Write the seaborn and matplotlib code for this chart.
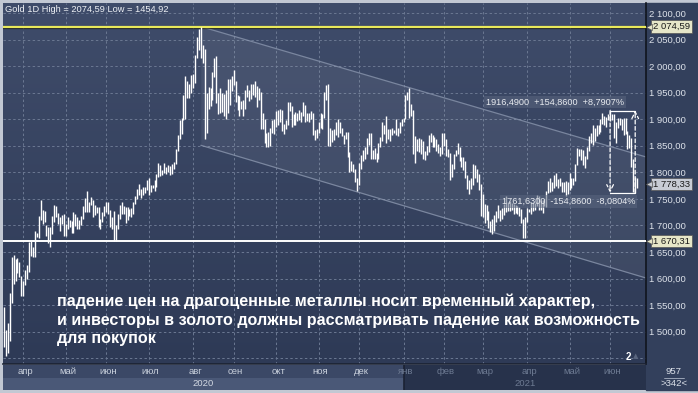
import numpy as np
import pandas as pd
import matplotlib
matplotlib.use("Agg")
import matplotlib.pyplot as plt
import matplotlib.patheffects as pe
from matplotlib.colors import LinearSegmentedColormap
from matplotlib.transforms import blended_transform_factory
import seaborn as sns

# ---- daily bars, Gold 1D, 2020-03-18 .. 2021-06-21 (one row per month) ----
highs = [
    1546, 1503, 1516, 1573, 1640, 1645, 1637, 1638, 1632, 1604,
    1596, 1617, 1626, 1668, 1671, 1660, 1690, 1686, 1717, 1747, 1729, 1727, 1701, 1698, 1697, 1717, 1739, 1736, 1723, 1716, 1720, 1722,
    1702, 1716, 1711, 1708, 1726, 1722, 1715, 1711, 1718, 1737, 1751, 1765, 1745, 1753, 1748, 1738, 1735, 1735, 1712, 1725, 1736,
    1745, 1745, 1730, 1715, 1727, 1700, 1721, 1739, 1744, 1737, 1734, 1735, 1731, 1732, 1745, 1755, 1768, 1779, 1768, 1772, 1773, 1785,
    1789, 1776, 1777, 1786, 1796, 1818, 1814, 1805, 1817, 1811, 1814, 1812, 1815, 1820, 1844, 1871, 1898, 1903, 1945, 1981, 1973, 1966, 1984,
    1985, 2021, 2055, 2070, 2074.59, 2040, 2032, 1949, 1960, 1959, 1989, 2015, 2020, 1950, 1959, 1950, 1947, 1955, 1976, 1976, 1981,
    1992, 1973, 1945, 1943, 1935, 1937, 1955, 1965, 1955, 1967, 1966, 1972, 1962, 1959, 1952, 1912, 1900, 1875, 1876, 1883, 1899, 1900,
    1916, 1918, 1920, 1918, 1891, 1898, 1933, 1933, 1925, 1909, 1914, 1912, 1917, 1914, 1932, 1926, 1911, 1911, 1916, 1911, 1880, 1882,
    1895, 1911, 1910, 1951, 1965, 1966, 1883, 1879, 1882, 1894, 1900, 1894, 1883, 1870, 1876, 1876, 1838, 1822, 1816, 1807, 1790,
    1818, 1833, 1842, 1848, 1864, 1875, 1874, 1843, 1845, 1837, 1856, 1866, 1895, 1890, 1906, 1882, 1881, 1883, 1880, 1900, 1884, 1894, 1900,
    1902, 1945, 1952, 1959, 1929, 1918, 1868, 1862, 1864, 1862, 1859, 1841, 1849, 1871, 1875, 1871, 1867, 1862, 1853, 1848, 1875,
    1875, 1863, 1844, 1837, 1816, 1835, 1843, 1855, 1848, 1829, 1828, 1822, 1795, 1785, 1789, 1816, 1814, 1806, 1797, 1778,
    1760, 1740, 1739, 1727, 1709, 1713, 1720, 1727, 1739, 1729, 1732, 1740, 1755, 1745, 1746, 1743, 1741, 1738, 1737, 1734, 1731, 1712, 1716,
    1733, 1731, 1744, 1745, 1743, 1758, 1756, 1747, 1748, 1750, 1764, 1783, 1790, 1781, 1795, 1798, 1788, 1790, 1782, 1781, 1784, 1782,
    1798, 1789, 1789, 1816, 1845, 1844, 1844, 1843, 1831, 1847, 1869, 1875, 1890, 1883, 1889, 1890, 1900, 1912, 1906, 1905, 1909,
    1916.49, 1909, 1909, 1894, 1903, 1903, 1900, 1902, 1903, 1877, 1870, 1864, 1825, 1791, 1790,
]
lows = [
    1471, 1454.92, 1460, 1483, 1553, 1590, 1596, 1610, 1603, 1567,
    1568, 1587, 1600, 1613, 1643, 1640, 1640, 1678, 1676, 1710, 1703, 1706, 1680, 1667, 1659, 1683, 1707, 1715, 1702, 1690, 1702, 1680,
    1680, 1693, 1697, 1685, 1686, 1699, 1693, 1693, 1700, 1713, 1726, 1726, 1725, 1738, 1716, 1720, 1724, 1697, 1693, 1706, 1717,
    1726, 1722, 1697, 1693, 1670, 1671, 1694, 1713, 1721, 1722, 1704, 1710, 1718, 1715, 1721, 1741, 1749, 1757, 1751, 1758, 1761, 1767,
    1757, 1763, 1770, 1764, 1772, 1791, 1793, 1795, 1798, 1797, 1800, 1795, 1797, 1806, 1815, 1840, 1862, 1872, 1898, 1900, 1940, 1940, 1949,
    1959, 1968, 2015, 2030, 2015, 2006, 1863, 1874, 1920, 1925, 1936, 1980, 1930, 1910, 1911, 1914, 1906, 1901, 1911, 1927, 1953,
    1964, 1933, 1917, 1906, 1920, 1906, 1920, 1941, 1935, 1938, 1946, 1942, 1923, 1937, 1882, 1882, 1855, 1848, 1848, 1850, 1875, 1872,
    1886, 1890, 1894, 1877, 1873, 1882, 1889, 1916, 1886, 1889, 1890, 1896, 1898, 1894, 1906, 1895, 1897, 1895, 1900, 1871, 1860, 1864,
    1875, 1884, 1882, 1902, 1936, 1850, 1849, 1857, 1860, 1870, 1866, 1874, 1868, 1854, 1862, 1828, 1800, 1803, 1800, 1781, 1764,
    1776, 1807, 1822, 1826, 1834, 1851, 1825, 1825, 1825, 1819, 1825, 1848, 1859, 1872, 1855, 1863, 1859, 1870, 1874, 1871, 1869, 1875, 1887,
    1895, 1900, 1936, 1902, 1906, 1835, 1817, 1840, 1839, 1834, 1825, 1824, 1832, 1838, 1857, 1847, 1848, 1841, 1836, 1830, 1835,
    1850, 1831, 1829, 1785, 1792, 1806, 1830, 1834, 1821, 1811, 1804, 1789, 1768, 1760, 1769, 1777, 1790, 1782, 1767, 1717,
    1716, 1705, 1711, 1696, 1687, 1683, 1689, 1706, 1714, 1709, 1712, 1720, 1725, 1728, 1728, 1730, 1721, 1723, 1721, 1718, 1704, 1676, 1677,
    1707, 1726, 1722, 1727, 1729, 1737, 1730, 1730, 1723, 1736, 1735, 1762, 1763, 1764, 1771, 1775, 1770, 1775, 1763, 1763, 1756, 1759,
    1766, 1771, 1776, 1783, 1814, 1830, 1824, 1813, 1808, 1825, 1841, 1855, 1851, 1859, 1868, 1873, 1876, 1892, 1889, 1885, 1898,
    1896, 1898, 1864, 1855, 1884, 1890, 1880, 1870, 1872, 1844, 1845, 1811, 1763, 1761.63, 1770,
]
start_date = "2020-03-18"
end_date = "2021-06-21"

month_names = ["янв", "фев", "мар", "апр", "май", "июн", "июл", "авг", "сен", "окт", "ноя", "дек"]
years = [2020, 2021]

high_level = 2074.59
support_level = 1670.31
last_price = 1778.33
price_ticks = [1500, 1550, 1600, 1650, 1700, 1750, 1800, 1850, 1900, 1950, 2000, 2050, 2100]

# descending channel: price at the August peak and at the right edge
channel_top = [2074.59, 1829]
channel_bottom = [1851, 1601]

measure_dates = ["2021-06-01", "2021-06-18"]
measure_prices = [1916.49, 1761.63]
measure_labels = ["1916,4900  +154,8600  +8,7907%", "1761,6300  -154,8600  -8,0804%"]

header = "Gold 1D High = 2074,59 Low = 1454,92"
headline = [
    "падение цен на драгоценные металлы носит временный характер,",
    "и инвесторы в золото должны рассматривать падение как возможность",
    "для покупок",
]
corner_top, corner_bottom = "957", ">342<"


def ru_price(v):
    return f"{v:,.2f}".replace(",", " ").replace(".", ",")


sns.set_theme(style="dark")
plt.rcParams["font.family"] = ["Liberation Sans", "DejaVu Sans"]

dates = pd.bdate_range(start_date, end_date)
df = pd.DataFrame({"date": dates, "high": highs, "low": lows})
df["i"] = np.arange(len(df))

W, H = 698, 393
fig = plt.figure(figsize=(W / 100, H / 100), dpi=100)
fig.patch.set_facecolor("#c2c8d3")


def box(l, t, r, b):
    return [l / W, 1 - b / H, (r - l) / W, (b - t) / H]


# right price panel background
fig.add_artist(plt.Rectangle((646 / W, 1 - 390 / H), 52 / W, 387 / H,
                             transform=fig.transFigure, color="#33405c", zorder=-5))

ax = fig.add_axes(box(3, 3, 646, 364))
xmin, xmax = -0.5, 332.6
ymin, ymax = 1439, 2119
ax.set_xlim(xmin, xmax)
ax.set_ylim(ymin, ymax)

grad = LinearSegmentedColormap.from_list("bg", ["#3f4c6a", "#2e3a56"])
ax.imshow(np.linspace(0, 1, 256).reshape(-1, 1), cmap=grad, aspect="auto",
          extent=[xmin, xmax, ymin, ymax], zorder=0)

# month starts
df["month"] = df["date"].dt.to_period("M")
firsts = df.groupby("month")["i"].min()
firsts = firsts[firsts > 0]

grid_kw = dict(color="#6b7892", lw=0.7, ls=(0, (2.5, 2.5)), zorder=1)
for p in range(1450, 2101, 50):
    ax.axhline(p, **grid_kw)
for i in firsts:
    ax.axvline(i, **grid_kw)

# channel
peak_i = int(np.argmax(highs))
cx = np.array([peak_i, xmax])
ax.fill_between(cx, channel_bottom, channel_top, color="white", alpha=0.06, lw=0, zorder=1)
ax.plot(cx, channel_top, color="#8995ad", lw=0.9, alpha=0.8, zorder=2)
ax.plot(cx, channel_bottom, color="#8995ad", lw=0.9, alpha=0.8, zorder=2)

# levels
ax.axhline(high_level, color="#e8e85a", lw=1.6, zorder=3,
           path_effects=[pe.SimpleLineShadow(offset=(0, -1.3), shadow_color="black", alpha=0.6), pe.Normal()])
ax.axhline(support_level, color="white", lw=1.4, zorder=3)

# bars
ax.vlines(df["i"], df["low"], df["high"], color="white", lw=1.0, zorder=4)

# measurement box
li = df.loc[df["date"] == measure_dates[0], "i"].iloc[0]
ri = df.loc[df["date"] == measure_dates[1], "i"].iloc[0]
top, bot = measure_prices
ax.plot([li, ri], [top, top], color="white", lw=0.9, zorder=5)
ax.plot([li, ri], [bot, bot], color="white", lw=0.9, zorder=5)
ax.annotate("", xy=(li, bot), xytext=(li, top),
            arrowprops=dict(arrowstyle="->", color="white", lw=0.9, ls=(0, (3, 2)), shrinkA=0, shrinkB=0), zorder=5)
ax.annotate("", xy=(ri, top), xytext=(ri, bot),
            arrowprops=dict(arrowstyle="->", color="white", lw=0.9, ls=(0, (3, 2)), shrinkA=0, shrinkB=0), zorder=5)
lab_box = dict(boxstyle="square,pad=0.2", fc="#5a667f", alpha=0.55, ec="none")
ax.annotate(measure_labels[0], xy=(ri, top), xytext=(-8, 3), textcoords="offset points",
            ha="right", va="bottom", fontsize=6.6, color="#e8ebf0", bbox=lab_box, zorder=6)
ax.annotate(measure_labels[1], xy=(ri, bot), xytext=(0, -3), textcoords="offset points",
            ha="right", va="top", fontsize=6.6, color="#e8ebf0", bbox=lab_box, zorder=6)

# axes cosmetics
for s in ["left", "top"]:
    ax.spines[s].set_visible(False)
ax.spines["right"].set_color("#10141d")
ax.spines["right"].set_linewidth(1.2)
ax.spines["bottom"].set_color("#1b2233")
ax.spines["bottom"].set_linewidth(1.2)
ax.set_xticks([])
ax.set_yticks(price_ticks)
ax.set_yticklabels([ru_price(v) for v in price_ticks])
ax.yaxis.tick_right()
ax.tick_params(axis="y", length=0, pad=2.5, labelsize=6.8, labelcolor="#dde2ea")
ax.grid(False)

# price tags on the right scale
tr = blended_transform_factory(ax.transAxes, ax.transData)
for v, fc in [(high_level, "#e6e6c8"), (last_price, "#c8ccd5"), (support_level, "#e6e6c8")]:
    ax.annotate(ru_price(v), xy=(1, v), xycoords=tr, xytext=(5, 0), textcoords="offset points",
                ha="left", va="center", fontsize=6.8, color="#1a1a1a",
                bbox=dict(boxstyle="square,pad=0.18", fc=fc, ec="#555555", lw=0.5), zorder=10,
                annotation_clip=False)
    ax.plot([1.004], [v], marker="<", ms=5, color=fc, mec="#555555", mew=0.5,
            transform=tr, clip_on=False, zorder=11)

# header and headline
fig.text(5 / W, 1 - 10 / H, header, fontsize=6.7, color="#eef1f5", va="center", ha="left")
for k, line in enumerate(headline):
    fig.text(57 / W, 1 - (306 + 18.5 * k) / H, line, fontsize=11.65, fontweight="bold",
             color="white", va="baseline", ha="left")
fig.text(628 / W, 1 - 357 / H, "2", fontsize=7, fontweight="bold", color="white", va="center", ha="center")
fig.text(636 / W, 1 - 356 / H, "▲", fontsize=5, color="#59657e", va="center", ha="center",
         family="DejaVu Sans")

# bottom time axis
axb = fig.add_axes(box(3, 365, 646, 390))
axb.set_xlim(xmin, xmax)
axb.set_ylim(0, 1)
axb.axis("off")
split = firsts[firsts.index == pd.Period("2021-01", "M")].iloc[0]
axb.axvspan(xmin, split, 0.5, 1, color="#3b4866", lw=0)
axb.axvspan(xmin, split, 0, 0.5, color="#4a5877", lw=0)
axb.axvspan(split, xmax, 0, 1, color="#27324b", lw=0)
axb.axvline(split, color="#1b2233", lw=1.2)
for per, i in firsts.items():
    c = "#c9d0dc" if per.year == years[0] else "#6d7a92"
    axb.text(i + 1, 0.76, month_names[per.month - 1], ha="center", va="center", fontsize=6.8, color=c)
axb.text((xmin + split) / 2, 0.24, str(years[0]), ha="center", va="center", fontsize=6.8, color="#d3d9e3")
axb.text((split + xmax) / 2, 0.24, str(years[1]), ha="center", va="center", fontsize=6.8, color="#6d7a92")

# corner counter
fig.text(674 / W, 1 - 371 / H, corner_top, fontsize=6.8, color="#dde2ea", ha="center", va="center")
fig.add_artist(plt.Line2D([664 / W, 684 / W], [1 - 378 / H] * 2, color="#aab3c3", lw=0.6))
fig.text(674 / W, 1 - 384 / H, corner_bottom, fontsize=6.8, color="#dde2ea", ha="center", va="center")

fig.savefig("out.png", dpi=100, facecolor=fig.get_facecolor())
